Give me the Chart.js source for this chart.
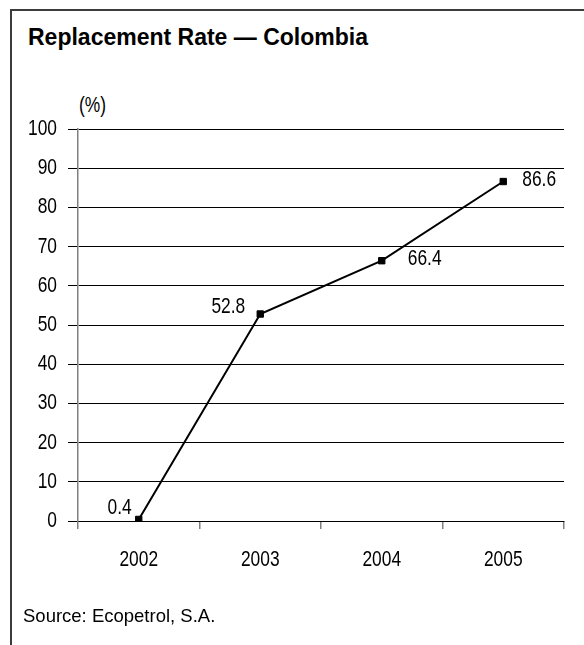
<!DOCTYPE html>
<html>
<head>
<meta charset="utf-8">
<script src="https://cdn.jsdelivr.net/npm/chart.js@4.4.1/dist/chart.umd.min.js"></script>
<style>
  body { margin: 0; background: #fff; }
  #wrap { position: relative; width: 584px; height: 645px; overflow: hidden; }
  #frame { position: absolute; left: 10px; top: 9px; width: 700px; height: 800px;
           border-top: 2px solid #3c3c3c; border-left: 2px solid #3c3c3c; }
  #title { position: absolute; left: 28px; top: 24px; white-space: nowrap;
           font: bold 23px "Liberation Sans", Arial, sans-serif; color: #000; }
  #unit { position: absolute; left: 79px; top: 92px; transform: scaleX(0.79); transform-origin: 0 0;
          font: 22px "Liberation Sans", Arial, sans-serif; color: #000; }
  #source { position: absolute; left: 23px; top: 605px; white-space: nowrap;
            font: 18.5px "Liberation Sans", Arial, sans-serif; color: #000; }
  canvas { position: absolute; left: 0; top: 0; }
</style>
</head>
<body>
<div id="wrap">
  <div id="frame"></div>
  <div id="title">Replacement Rate — Colombia</div>
  <div id="unit">(%)</div>
  <canvas id="chart" width="584" height="645"></canvas>
  <div id="source">Source: Ecopetrol, S.A.</div>
</div>
<script>
const years = ["2002", "2003", "2004", "2005"];
const rate = [0.4, 52.8, 66.4, 86.6];
const yTicks = { min: 0, max: 100, step: 10 };

// where each value label sits relative to its point: [dx, dy, align]
const labelPlacement = [
  [-7, -11, "right"],
  [-15, -7, "right"],
  [26, -2, "left"],
  [19, -2, "left"]
];

const FONT = '22px "Liberation Sans", Arial, sans-serif';
const SQUEEZE = 0.79;

// condensed text: regular sans squeezed horizontally
function narrowText(ctx, text, x, y, align) {
  ctx.save();
  ctx.translate(x, y);
  ctx.scale(SQUEEZE, 1);
  ctx.font = FONT;
  ctx.fillStyle = "#000";
  ctx.textAlign = align;
  ctx.textBaseline = "middle";
  ctx.fillText(text, 0, 0);
  ctx.restore();
}

const narrowLabels = {
  id: "narrowLabels",
  afterDatasetsDraw(chart) {
    const ctx = chart.ctx;
    const xs = chart.scales.x, ys = chart.scales.y;

    ys.ticks.forEach((t, i) => {
      narrowText(ctx, String(t.value), ys.right - 21, ys.getPixelForTick(i), "right");
    });
    xs.ticks.forEach((t, i) => {
      narrowText(ctx, years[i], xs.getPixelForTick(i), xs.top + 39, "center");
    });

    chart.getDatasetMeta(0).data.forEach((pt, i) => {
      const [dx, dy, align] = labelPlacement[i];
      narrowText(ctx, rate[i].toFixed(1), pt.x + dx, pt.y + dy, align);
    });
  }
};

const ctx = document.getElementById("chart").getContext("2d");
new Chart(ctx, {
  type: "line",
  data: {
    labels: years,
    datasets: [{
      data: rate,
      borderColor: "#000",
      borderWidth: 2,
      pointStyle: "rect",
      pointRadius: 4.5,
      pointBorderWidth: 1,
      pointBackgroundColor: "#000",
      pointBorderColor: "#000",
      tension: 0
    }]
  },
  options: {
    responsive: false,
    animation: false,
    layout: { padding: { top: 129, right: 20, left: 0, bottom: 0 } },
    plugins: { legend: { display: false }, tooltip: { enabled: false } },
    scales: {
      x: {
        offset: true,
        afterFit(scale) { scale.height = 124; },
        grid: { offset: true, drawOnChartArea: false, color: "#808080", tickLength: 8, lineWidth: 1.5 },
        border: { color: "#000", width: 1 },
        ticks: { color: "rgba(0,0,0,0)" }
      },
      y: {
        min: yTicks.min,
        max: yTicks.max,
        afterFit(scale) { scale.width = 78; },
        grid: { color: "#000", lineWidth: 1, tickLength: 10 },
        border: { color: "#808080", width: 1.5 },
        ticks: { stepSize: yTicks.step, color: "rgba(0,0,0,0)" }
      }
    }
  },
  plugins: [narrowLabels]
});
</script>
</body>
</html>
